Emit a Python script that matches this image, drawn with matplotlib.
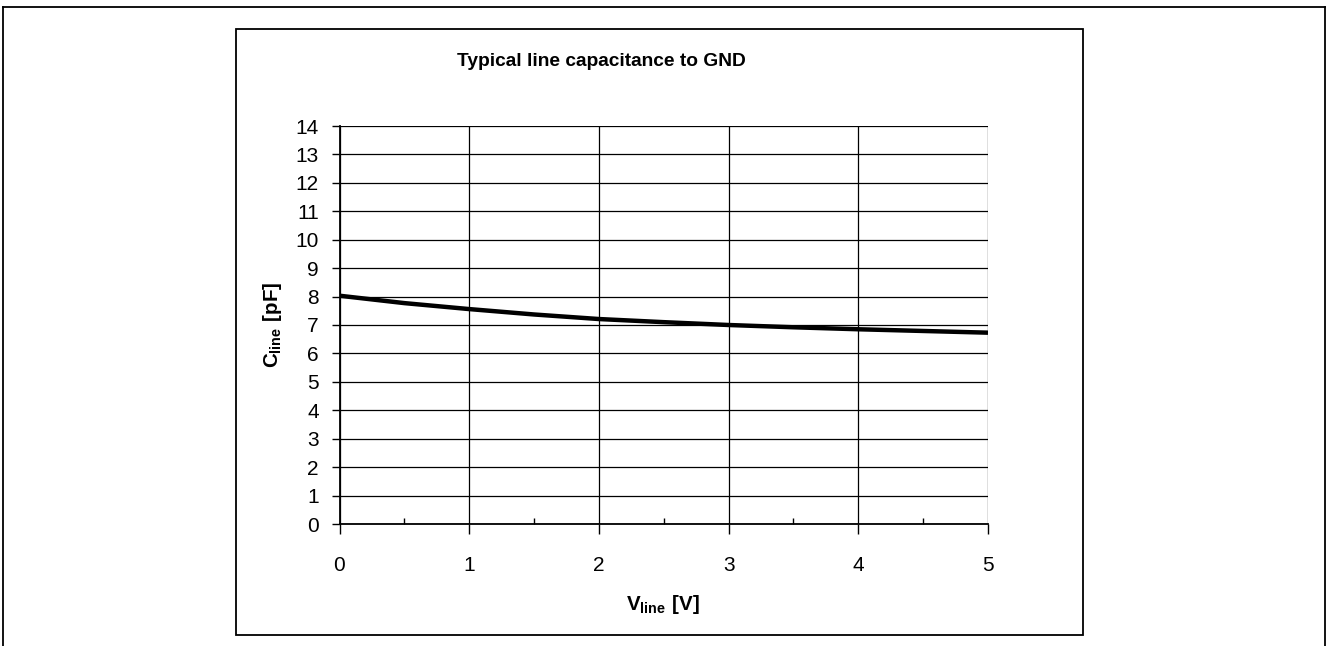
import matplotlib
matplotlib.use("Agg")
import matplotlib.pyplot as plt
from matplotlib.lines import Line2D
from matplotlib.patches import Rectangle
from matplotlib.ticker import MultipleLocator

plt.rcParams["font.family"] = ["Liberation Sans", "DejaVu Sans"]
plt.rcParams["mathtext.fontset"] = "custom"
plt.rcParams["mathtext.rm"] = "Liberation Sans"
plt.rcParams["mathtext.bf"] = "Liberation Sans:bold"

# values
v_line = [0, 0.5, 1, 1.5, 2, 2.5, 3, 3.5, 4, 4.5, 5]
c_line = [8.03, 7.77, 7.56, 7.37, 7.21, 7.10, 7.00, 6.92, 6.85, 6.79, 6.73]

x_ticks = [0, 1, 2, 3, 4, 5]
y_ticks = list(range(0, 15))

W, H = 1328, 646
fig = plt.figure(figsize=(W / 100, H / 100), dpi=100)


def fx(px):
    return px / W


def fy(py):
    return 1 - py / H


# outer frame (open at the bottom)
for xs, ys in [((3.5, 3.5), (H + 5, 7)), ((3.5, 1324.5), (7, 7)), ((1324.5, 1324.5), (7, H + 5))]:
    fig.add_artist(Line2D([fx(x) for x in xs], [fy(y) for y in ys], color="black", lw=1.3))

# chart frame
fig.add_artist(Rectangle((fx(235.5), fy(635)), fx(1083) - fx(235.5), fy(28.5) - fy(635),
                         fill=False, edgecolor="black", lw=1.3))

ax = fig.add_axes([fx(339.5), fy(524), fx(988) - fx(339.5), fy(126) - fy(524)])
ax.plot(v_line, c_line, color="black", lw=3.2, solid_capstyle="butt")

ax.set_xlim(0, 5)
ax.set_ylim(0, 14)
ax.set_xticks(x_ticks)
ax.set_yticks(y_ticks)
ax.xaxis.set_minor_locator(MultipleLocator(0.5))
ax.grid(True, which="major", color="black", lw=0.9)
ax.tick_params(axis="x", which="major", direction="out", length=7, width=1, pad=16, labelsize=15)
ax.tick_params(axis="x", which="minor", direction="in", length=4, width=1)
ax.tick_params(axis="y", direction="out", length=6, width=1, pad=9, labelsize=15)
for s in ["top", "right"]:
    ax.spines[s].set_visible(False)
ax.spines["left"].set_linewidth(1.3)
ax.spines["bottom"].set_linewidth(1.3)

fig.text(fx(601), fy(61), "Typical line capacitance to GND", ha="center", va="center",
         fontsize=13.8, fontweight="bold")
fig.text(fx(663), fy(605), r"$\mathbf{V_{line}\ [V]}$", ha="center", va="center", fontsize=14.8)
fig.text(fx(272), fy(325), r"$\mathbf{C_{line}\ [pF]}$", ha="center", va="center",
         fontsize=14.8, rotation=90)

fig.savefig("out.png", dpi=100)
